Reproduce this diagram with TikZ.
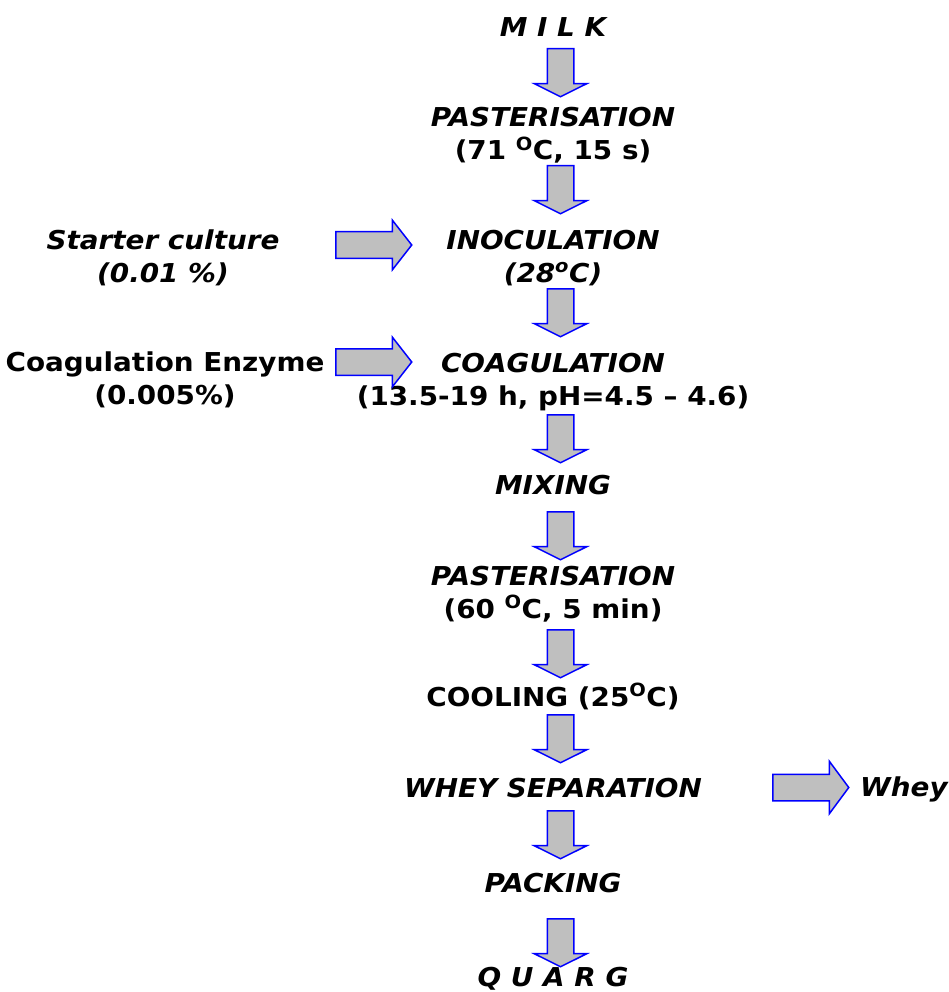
\documentclass[tikz,border=0pt]{standalone}
\usepackage{fontspec}
\setmainfont{DejaVu Sans}[FakeStretch=1.07]
\usetikzlibrary{shapes.arrows}

\tikzset{
	stepup/.style={font=\fontsize{26}{33}\selectfont\bfseries, align=center, anchor=base, inner sep=0pt},
	stepit/.style={stepup, font=\fontsize{26}{33}\selectfont\bfseries\itshape},
	downarr/.style={single arrow, shape border rotate=270, draw=blue, fill=black!25, line width=1.5pt,
		inner sep=12.5pt, minimum height=48pt, single arrow head extend=13pt, single arrow tip angle=127, anchor=tail},
	sidearr/.style={single arrow, draw=blue, fill=black!25, line width=1.5pt,
		inner sep=12.5pt, minimum height=76pt, single arrow head extend=11.5pt, single arrow tip angle=104, anchor=tail}
}

\begin{document}
\begin{tikzpicture}[x=1pt,y=-1pt]
	
	\useasboundingbox (0,0) rectangle (949,992);
	
	% main line (two-line nodes sit on their last baseline)
	\node[stepit] (milk) at (553,37) {M I L K};
	\node[stepup] (past1) at (553,160) {{\itshape PASTERISATION}\\(71 \textsuperscript{O}C, 15 s)};
	\node[stepit] (inoc) at (553,282) {INOCULATION\\(28\textsuperscript{o}C)};
	\node[stepup] (coag) at (553,405) {{\itshape COAGULATION}\\(13.5-19 h, pH=4.5 -- 4.6)};
	\node[stepit] (mix) at (553,494) {MIXING};
	\node[stepup] (past2) at (553,618) {{\itshape PASTERISATION}\\(60 \textsuperscript{O}C, 5 min)};
	\node[stepup] (cool) at (553,706) {COOLING (25\textsuperscript{O}C)};
	\node[stepit] (whey) at (553,797) {WHEY SEPARATION};
	\node[stepit] (pack) at (553,892) {PACKING};
	\node[stepit] (quarg) at (553,986) {Q U A R G};
	
	\foreach \y [count=\i] in {48,165,288,414,511,629,714,810,918}
		\node[downarr] (d\i) at (560.5,\y) {};
	
	% inputs and output
	\node[stepit] (starter) at (163,282) {Starter culture\\(0.01 \%)};
	\node[stepup] (enzyme) at (165,404) {Coagulation Enzyme\\(0.005\%)};
	\node[sidearr] (s1) at (335,245) {};
	\node[sidearr] (s2) at (335,362) {};
	\node[sidearr, single arrow head extend=13pt, single arrow tip angle=107] (s3) at (772,787.5) {};
	\node[stepit, anchor=base west] (wheyout) at (860,796) {Whey};
	
\end{tikzpicture}
\end{document}
